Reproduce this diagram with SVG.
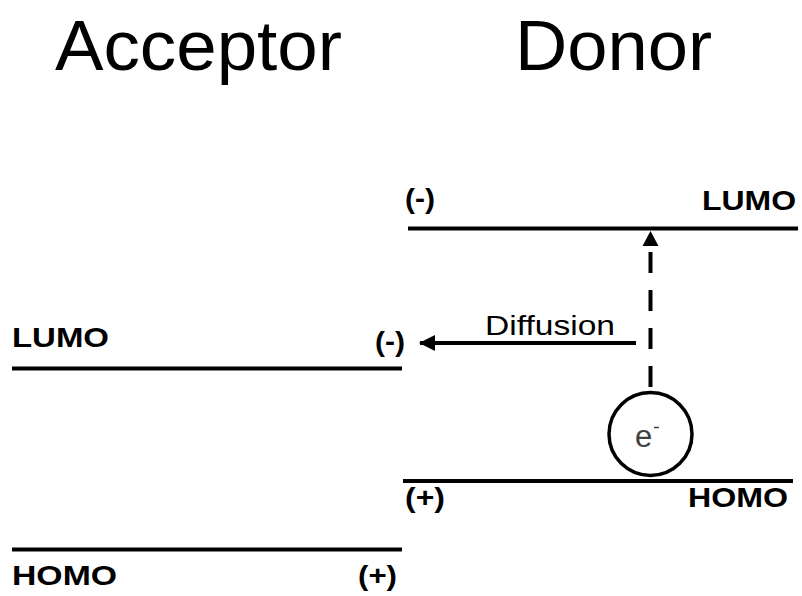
<svg xmlns="http://www.w3.org/2000/svg" width="802" height="596" viewBox="0 0 802 596">
  <style>
    .title { font-family: "Liberation Sans", Arial, sans-serif; font-size: 70px; fill: #000; }
    .lbl { font-family: "Liberation Sans", Arial, sans-serif; font-size: 28px; font-weight: bold; fill: #000; }
    .reg { font-family: "Liberation Sans", Arial, sans-serif; font-size: 28px; fill: #000; }
    .level { stroke: #000; stroke-width: 4; fill: none; }
    .conn { stroke: #000; stroke-width: 4; fill: none; }
  </style>
  <defs>
    <marker id="arrow" viewBox="0 0 16 16" refX="15" refY="8" markerUnits="userSpaceOnUse" markerWidth="16" markerHeight="16" orient="auto">
      <path d="M0,0 L16,8 L0,16 Z" fill="#000"/>
    </marker>
  </defs>
  <rect width="802" height="596" fill="#fff"/>

  <g id="title-acceptor">
    <text class="title" x="55" y="70" textLength="287" lengthAdjust="spacingAndGlyphs">Acceptor</text>
  </g>
  <g id="title-donor">
    <text class="title" x="515" y="70" textLength="197" lengthAdjust="spacingAndGlyphs">Donor</text>
  </g>

  <g id="donor-lumo">
    <line class="level" x1="408" y1="228.5" x2="798" y2="228.5"/>
    <text class="lbl" x="405" y="208" textLength="30" lengthAdjust="spacingAndGlyphs">(-)</text>
    <text class="lbl" x="702" y="210" textLength="94" lengthAdjust="spacingAndGlyphs">LUMO</text>
  </g>

  <g id="donor-homo">
    <line class="level" x1="403" y1="481" x2="793" y2="481"/>
    <text class="lbl" x="405" y="507" textLength="40" lengthAdjust="spacingAndGlyphs">(+)</text>
    <text class="lbl" x="688" y="507" textLength="100" lengthAdjust="spacingAndGlyphs">HOMO</text>
  </g>

  <g id="acceptor-lumo">
    <line class="level" x1="12" y1="368.5" x2="402" y2="368.5"/>
    <text class="lbl" x="12" y="347" textLength="97" lengthAdjust="spacingAndGlyphs">LUMO</text>
    <text class="lbl" x="375" y="351" textLength="30" lengthAdjust="spacingAndGlyphs">(-)</text>
  </g>

  <g id="acceptor-homo">
    <line class="level" x1="12" y1="549.5" x2="402" y2="549.5"/>
    <text class="lbl" x="12" y="585" textLength="105" lengthAdjust="spacingAndGlyphs">HOMO</text>
    <text class="lbl" x="358" y="585" textLength="39" lengthAdjust="spacingAndGlyphs">(+)</text>
  </g>

  <g id="electron">
    <circle cx="650.5" cy="434" r="41.5" fill="#fff" stroke="#000" stroke-width="3.5"/>
    <text x="635" y="447" font-family="'Liberation Sans', Arial, sans-serif" font-size="31" fill="#404040">e</text>
    <line x1="654" y1="427.5" x2="659" y2="427.5" stroke="#404040" stroke-width="1.5"/>
  </g>

  <g id="connectors">
    <line class="conn" x1="650.5" y1="387" x2="650.5" y2="249" stroke-dasharray="21 17"/>
    <path d="M650.5,231 L642.5,246 L658.5,246 Z" fill="#000"/>
    <line class="conn" x1="636" y1="343" x2="420" y2="343" marker-end="url(#arrow)"/>
    <text class="reg" x="485" y="335" textLength="130" lengthAdjust="spacingAndGlyphs">Diffusion</text>
  </g>
</svg>
